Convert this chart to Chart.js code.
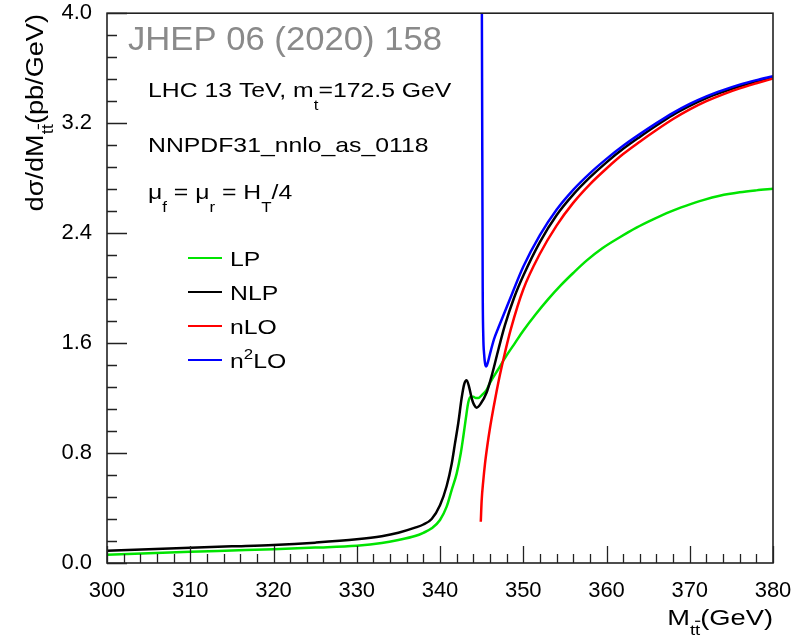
<!DOCTYPE html>
<html>
<head>
<meta charset="utf-8">
<title>Mtt threshold distribution</title>
<script src="https://cdn.jsdelivr.net/npm/chart.js@4.4.0/dist/chart.umd.min.js"></script>
<style>
  html, body { margin: 0; padding: 0; background: #fff; }
  canvas { display: block; }
</style>
</head>
<body>
<canvas id="mttChart" width="801" height="636"></canvas>
<script>
// values (M_tt in GeV, dsigma/dM in pb/GeV)
const lpMass = [300, 305, 310, 315, 320, 325, 330, 333, 335, 337, 338, 339, 340,
  340.8, 341.4, 342.0, 342.5, 342.8, 343.1, 343.4, 343.7, 344.0, 344.3, 344.6, 345.0, 345.6, 346.0,
  347.0, 348.0, 349.0, 350.0, 351.5, 353.0, 354.5, 356.0, 357.6, 359.5, 361.6, 363.6, 365.6,
  367.6, 369.6, 371.6, 373.6, 376.0, 378.0, 380.0];
const lpXsec = [0.060, 0.071, 0.082, 0.091, 0.100, 0.112, 0.126, 0.145, 0.167, 0.196, 0.220, 0.252, 0.313,
  0.41, 0.53, 0.65, 0.80, 0.92, 1.05, 1.17, 1.21, 1.21, 1.20, 1.20, 1.22, 1.26, 1.31,
  1.41, 1.51, 1.60, 1.69, 1.81, 1.92, 2.02, 2.11, 2.20, 2.29, 2.37, 2.44, 2.50,
  2.555, 2.60, 2.64, 2.672, 2.697, 2.711, 2.722];

const nlpMass = [300, 305, 310, 315, 320, 325, 330, 333, 335, 337, 338, 339, 340,
  340.8, 341.4, 341.8, 342.2, 342.6, 342.9, 343.2, 343.5, 343.8, 344.1, 344.4, 344.9, 345.6, 346.2,
  347.0, 347.8, 348.9, 350, 352, 354, 356, 358, 360, 362, 364, 366, 368, 370, 372, 374, 376, 378, 380];
const nlpXsec = [0.089, 0.100, 0.111, 0.121, 0.131, 0.148, 0.172, 0.195, 0.220, 0.257, 0.280, 0.320, 0.420,
  0.56, 0.72, 0.87, 1.02, 1.20, 1.30, 1.33, 1.28, 1.20, 1.15, 1.13, 1.16, 1.24, 1.36,
  1.55, 1.73, 1.93, 2.09, 2.335, 2.53, 2.68, 2.805, 2.915, 3.013, 3.10, 3.183, 3.26, 3.325,
  3.382, 3.428, 3.469, 3.503, 3.532];

const nloMass = [344.9, 345.0, 345.2, 345.4, 345.7, 346.0, 346.4, 346.8, 347.2, 347.8, 348.5,
  350, 352, 354, 356, 358, 360, 362, 364, 366, 368, 370, 372, 374, 376, 378, 380];
const nloXsec = [0.30, 0.45, 0.60, 0.72, 0.86, 0.98, 1.12, 1.25, 1.37, 1.53, 1.70,
  1.99, 2.25, 2.455, 2.62, 2.755, 2.87, 2.975, 3.065, 3.15, 3.23, 3.30, 3.36, 3.41, 3.453, 3.49, 3.525];

const n2loMass = [345.02, 345.08, 345.13, 345.2, 345.3, 345.42, 345.56, 345.75, 346.0, 346.5,
  347.0, 347.8, 348.6, 350, 352, 354, 356, 358, 360, 362, 364, 366, 368, 370, 372, 374, 376, 378, 380];
const n2loXsec = [4.20, 3.00, 2.00, 1.65, 1.52, 1.45, 1.43, 1.46, 1.52, 1.63,
  1.71, 1.83, 1.95, 2.155, 2.385, 2.57, 2.715, 2.835, 2.94, 3.035, 3.12, 3.20, 3.275, 3.34,
  3.395, 3.44, 3.48, 3.513, 3.542];

const seriesLabels = ['LP', 'NLP', 'nLO', 'n²LO'];
const xTickLabels = ['300', '310', '320', '330', '340', '350', '360', '370', '380'];
const yTickLabels = ['0.0', '0.8', '1.6', '2.4', '3.2', '4.0'];

const FONT = '"Liberation Sans", Arial, Helvetica, sans-serif';
const STRETCH = 1.18; // the ROOT text in the picture is wider than plain Helvetica

function toPoints(xs, ys) {
  return xs.map(function(x, i) { return { x: x, y: ys[i] }; });
}

// draw a run of text pieces, with sub/superscripts, optionally rotated and stretched
function drawRich(ctx, x, y, parts, size, opts) {
  opts = opts || {};
  ctx.save();
  ctx.translate(x, y);
  if (opts.rotate) ctx.rotate(opts.rotate);
  ctx.scale(opts.stretch || 1, 1);
  ctx.fillStyle = opts.color || '#000';
  ctx.strokeStyle = opts.color || '#000';
  ctx.textBaseline = 'alphabetic';
  ctx.textAlign = 'left';
  function fontOf(p) {
    const s = (p.sub || p.sup) ? size * 0.68 : size;
    return s.toFixed(1) + 'px ' + FONT;
  }
  let total = 0;
  parts.forEach(function(p) { ctx.font = fontOf(p); total += ctx.measureText(p.t).width; });
  let cx = opts.align === 'right' ? -total : 0;
  parts.forEach(function(p) {
    ctx.font = fontOf(p);
    const dy = p.sub ? size * (opts.subDrop || 0.6) : (p.sup ? -size * 0.42 : 0);
    ctx.fillText(p.t, cx, dy);
    const w = ctx.measureText(p.t).width;
    if (p.bar) {
      ctx.lineWidth = 1.2;
      ctx.beginPath();
      ctx.moveTo(cx, dy - size * 0.62);
      ctx.lineTo(cx + w, dy - size * 0.62);
      ctx.stroke();
    }
    cx += w;
  });
  ctx.restore();
}

// ROOT-like frame, inner ticks, titles, text and legend
const rootStyle = {
  id: 'rootStyle',
  afterDatasetsDraw(chart) {
    const ctx = chart.ctx;
    const a = chart.chartArea;
    const xs = chart.scales.x, ys = chart.scales.y;

    ctx.save();
    ctx.strokeStyle = '#222';
    ctx.lineWidth = 1.6;
    ctx.strokeRect(a.left, a.top, a.right - a.left, a.bottom - a.top);

    // x ticks: major every 10, minor every 2
    ctx.lineWidth = 1.3;
    ctx.beginPath();
    for (let k = 0; k <= 40; k++) {
      const v = xs.min + k * 2;
      const px = Math.round(xs.getPixelForValue(v)) + 0.5;
      const len = (k % 5 === 0) ? 17 : 9;
      ctx.moveTo(px, a.bottom);
      ctx.lineTo(px, a.bottom - len);
    }
    // y ticks: major every 0.8, minor every 0.16
    for (let k = 0; k <= 25; k++) {
      const v = ys.min + k * 0.16;
      const py = Math.round(ys.getPixelForValue(v)) + 0.5;
      const len = (k % 5 === 0) ? 20 : 10;
      ctx.moveTo(a.left, py);
      ctx.lineTo(a.left + len, py);
    }
    ctx.stroke();
    ctx.restore();

    // axis titles
    drawRich(ctx, 43, 14, [
      { t: 'd\u03c3/dM' }, { t: 't', sub: true }, { t: 't', sub: true, bar: true }, { t: '(pb/GeV)' }
    ], 23, { rotate: -Math.PI / 2, align: 'right', stretch: STRETCH, subDrop: 0.42 });
    drawRich(ctx, 773, 625, [
      { t: 'M' }, { t: 't', sub: true }, { t: 't', sub: true, bar: true }, { t: '(GeV)' }
    ], 22, { align: 'right', stretch: STRETCH + 0.06, subDrop: 0.45 });

    // journal stamp and plot annotations
    drawRich(ctx, 128, 50, [{ t: 'JHEP 06 (2020) 158' }], 33, { color: '#8a8a8a', stretch: 1.05 });
    drawRich(ctx, 148, 97, [{ t: 'LHC 13 TeV, m' }, { t: 't', sub: true }, { t: '=172.5 GeV' }], 21, { stretch: STRETCH });
    drawRich(ctx, 148, 152, [{ t: 'NNPDF31_nnlo_as_0118' }], 21, { stretch: STRETCH });
    drawRich(ctx, 148, 199, [
      { t: '\u03bc' }, { t: 'f', sub: true }, { t: ' = \u03bc' }, { t: 'r', sub: true },
      { t: ' = H' }, { t: 'T', sub: true }, { t: '/4' }
    ], 21, { stretch: STRETCH });

    // legend, in dataset order
    const rowY = [258, 292, 326, 360];
    chart.data.datasets.forEach(function(ds, i) {
      ctx.save();
      ctx.strokeStyle = ds.borderColor;
      ctx.lineWidth = 2;
      ctx.beginPath();
      ctx.moveTo(188, rowY[i]);
      ctx.lineTo(222, rowY[i]);
      ctx.stroke();
      ctx.restore();
      const parts = ds.label.indexOf('²') >= 0
        ? [{ t: 'n' }, { t: '2', sup: true }, { t: 'LO' }]
        : [{ t: ds.label }];
      drawRich(ctx, 230, rowY[i] + 8, parts, 21, { stretch: STRETCH });
    });
  }
};

const lineStyle = {
  borderWidth: 2.5,
  pointRadius: 0,
  fill: false,
  cubicInterpolationMode: 'monotone'
};

new Chart(document.getElementById('mttChart').getContext('2d'), {
  type: 'line',
  data: {
    datasets: [
      Object.assign({ label: seriesLabels[0], data: toPoints(lpMass, lpXsec), borderColor: '#00e400', order: 4 }, lineStyle),
      Object.assign({ label: seriesLabels[1], data: toPoints(nlpMass, nlpXsec), borderColor: '#000000', order: 3 }, lineStyle),
      Object.assign({ label: seriesLabels[2], data: toPoints(nloMass, nloXsec), borderColor: '#ff0000', order: 2 }, lineStyle),
      Object.assign({ label: seriesLabels[3], data: toPoints(n2loMass, n2loXsec), borderColor: '#0000ff', order: 1 }, lineStyle)
    ]
  },
  options: {
    responsive: false,
    animation: false,
    devicePixelRatio: 1,
    events: [],
    layout: { padding: { left: 0, top: 13, right: 28, bottom: 0 } },
    plugins: {
      legend: { display: false },
      tooltip: { enabled: false },
      title: { display: false }
    },
    scales: {
      x: {
        type: 'linear',
        min: 300,
        max: 380,
        // tick marks themselves are drawn inside the frame by the plugin;
        // tickLength here only sets the gap to the labels
        grid: { display: false, drawTicks: true, tickLength: 15 },
        border: { display: false },
        ticks: {
          stepSize: 10,
          autoSkip: false,
          maxRotation: 0,
          padding: 0,
          color: '#000',
          font: { family: FONT, size: 22 },
          callback: function(value, index) { return xTickLabels[index]; }
        },
        afterFit: function(scale) { scale.height = 73; }
      },
      y: {
        type: 'linear',
        min: 0,
        max: 4,
        grid: { display: false, drawTicks: true, tickLength: 15 },
        border: { display: false },
        ticks: {
          stepSize: 0.8,
          padding: 0,
          color: '#000',
          font: { family: FONT, size: 22 },
          callback: function(value, index) { return yTickLabels[index]; }
        },
        afterFit: function(scale) { scale.width = 107; }
      }
    }
  },
  plugins: [rootStyle]
});
</script>
</body>
</html>
